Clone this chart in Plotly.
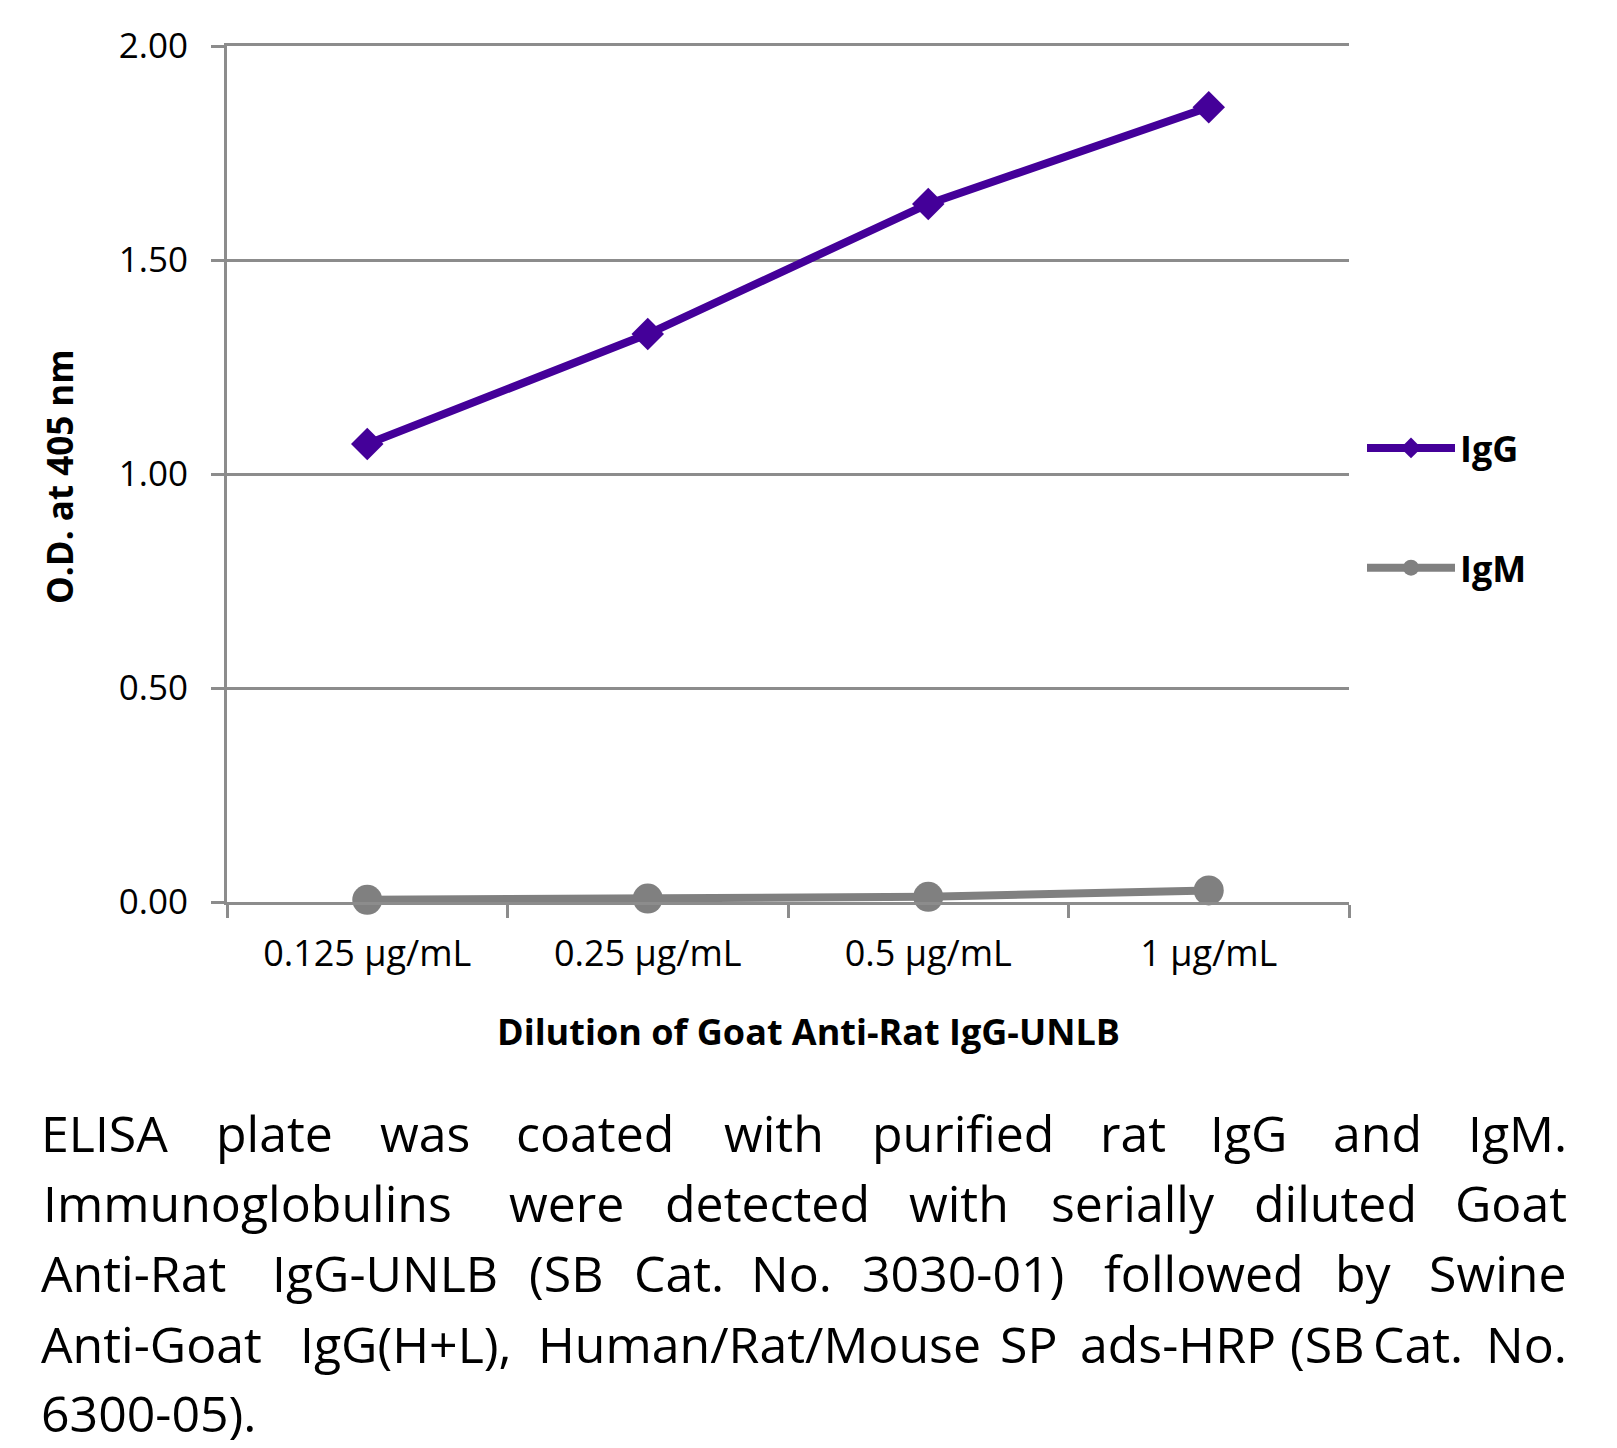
import plotly.graph_objects as go

categories = ["0.125 µg/mL", "0.25 µg/mL", "0.5 µg/mL", "1 µg/mL"]
igg_values = [1.07, 1.327, 1.631, 1.857]
igm_values = [0.005, 0.008, 0.012, 0.027]
y_ticks = [0, 0.5, 1.0, 1.5, 2.0]
y_tick_labels = ["0.00", "0.50", "1.00", "1.50", "2.00"]

caption_lines = [
    [("ELISA", 39, 170), ("plate", 214, 335), ("was", 379, 471), ("coated", 512, 677),
     ("with", 722, 825), ("purified", 869, 1057), ("rat", 1101, 1165), ("IgG", 1208, 1289),
     ("and", 1332, 1423), ("IgM.", 1466, 1569)],
    [("Immunoglobulins", 41, 474), ("were", 508, 624), ("detected", 658, 876), ("with", 907, 1010),
     ("serially", 1049, 1216), ("diluted", 1249, 1421), ("Goat", 1454, 1569)],
    [("Anti-Rat", 39, 232), ("IgG-UNLB", 268, 502), ("(SB", 528, 603), ("Cat.", 631, 727),
     ("No.", 753, 830), ("3030-01)", 859, 1067), ("followed", 1101, 1307), ("by", 1335, 1392),
     ("Swine", 1423, 1569)],
    [("Anti-Goat", 39, 278), ("IgG(H+L),", 289, 521), ("Human/Rat/Mouse", 533, 985), ("SP", 995, 1062),
     ("ads-HRP", 1077, 1278), ("(SB", 1292, 1361), ("Cat.", 1371, 1464), ("No.", 1479, 1569)],
    [("6300-05).", 39, 263)],
]
caption_baselines = [1152, 1222, 1292, 1363, 1432]

W, H = 1617, 1448
L, R, T, B = 227, 268, 46, 546
PW, PH = W - L - R, H - T - B


def px(x):
    return (x - L) / PW


def py(y):
    return (H - B - y) / PH


FONT = "Open Sans"
PURPLE = "#440099"
GREY = "#808080"
GRID = "#8c8c8c"

fig = go.Figure()
fig.add_trace(go.Scatter(
    x=categories, y=igg_values, name="IgG", mode="lines+markers",
    line=dict(color=PURPLE, width=8),
    marker=dict(symbol="diamond", size=25, color=PURPLE),
    cliponaxis=False, legendgroup="a",
))
fig.add_trace(go.Scatter(
    x=categories, y=igm_values, name="IgM", mode="lines+markers",
    line=dict(color=GREY, width=8),
    marker=dict(symbol="circle", size=30, color=GREY),
    cliponaxis=False, legendgroup="b",
))

annotations = []
annotations.append(dict(
    text="<b>Dilution of Goat Anti-Rat IgG-UNLB</b>", x=px(808), y=py(1031),
    xref="paper", yref="paper", xanchor="center", yanchor="middle", showarrow=False,
    font=dict(family=FONT, size=36, color="black"),
))
annotations.append(dict(
    text="<b>O.D. at 405 nm</b>", x=px(59), y=py(477), textangle=-90,
    xref="paper", yref="paper", xanchor="center", yanchor="middle", showarrow=False,
    font=dict(family=FONT, size=35, color="black"),
))
CAP_FS = 50
for words, base in zip(caption_lines, caption_baselines):
    n = len(words)
    for i, (w, x0, x1) in enumerate(words):
        if i == 0:
            xa, xx = "left", x0
        elif i == n - 1:
            xa, xx = "right", x1
        else:
            xa, xx = "center", (x0 + x1) / 2
        annotations.append(dict(
            text=w, x=px(xx), y=py(base - 19), xref="paper", yref="paper",
            xanchor=xa, yanchor="middle", showarrow=False,
            font=dict(family=FONT, size=CAP_FS, color="black"),
        ))

fig.update_layout(
    width=W, height=H,
    margin=dict(l=L, r=R, t=T, b=B, autoexpand=False),
    paper_bgcolor="white", plot_bgcolor="white",
    font=dict(family=FONT, color="black"),
    showlegend=True,
    legend=dict(
        x=px(1362), y=py(418), xanchor="left", yanchor="top",
        font=dict(family=FONT, size=36, color="black", weight="bold"),
        itemwidth=88, tracegroupgap=70, bgcolor="rgba(0,0,0,0)",
    ),
    annotations=annotations,
    xaxis=dict(
        type="category", range=[-0.5, 3.5], tickson="boundaries",
        ticks="outside", ticklen=13, tickwidth=3, tickcolor=GRID,
        showline=True, mirror=True, linecolor=GRID, linewidth=3, showgrid=False,
        tickfont=dict(family=FONT, size=36, color="black"),
        ticklabelstandoff=18, zeroline=False,
    ),
    yaxis=dict(
        range=[0, 2], tickmode="array", tickvals=y_ticks, ticktext=y_tick_labels,
        ticks="outside", ticklen=13, tickwidth=3, tickcolor=GRID,
        showgrid=True, gridcolor=GRID, gridwidth=3,
        showline=True, linecolor=GRID, linewidth=3, zeroline=False,
        tickfont=dict(family=FONT, size=35, color="black"),
        ticklabelstandoff=16,
    ),
)

fig.write_html(
    "out.html",
    config={"displayModeBar": False},
    post_script="document.body.style.margin='0px';",
)
